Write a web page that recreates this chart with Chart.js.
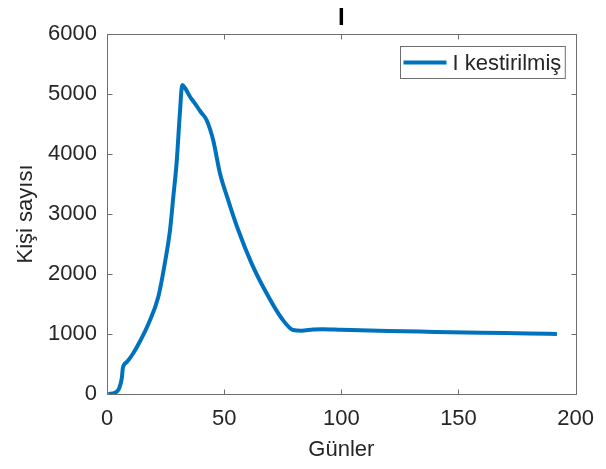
<!DOCTYPE html>
<html>
<head>
<meta charset="utf-8">
<script src="https://cdn.jsdelivr.net/npm/chart.js@4/dist/chart.umd.min.js"></script>
<style>
  html, body { margin: 0; padding: 0; background: #fff; }
  #wrap { width: 606px; height: 469px; }
</style>
</head>
<body>
<div id="wrap"><canvas id="c" width="606" height="469"></canvas></div>
<script>
// Estimated infected count (I) per day
const days = [0.6, 3.4, 5.2, 6.3, 6.8, 8.4, 11.2, 14.1, 17.7, 21.9, 24.7, 26.9, 28.3, 29.7, 31.1, 32.1, 33.3, 35.5, 37.5, 40, 42.5, 45.3, 48.2, 51.7, 56, 61.7, 68.1, 74.5, 79.4, 83, 88, 92, 100, 120, 140, 160, 180, 192];
const infected = [0, 20, 95, 260, 440, 530, 680, 880, 1170, 1622, 2183, 2733, 3288, 3850, 4678, 5150, 5100, 4950, 4845, 4700, 4567, 4233, 3678, 3233, 2733, 2178, 1678, 1262, 1067, 1055, 1075, 1080, 1070, 1050, 1035, 1020, 1010, 1000];

const chartTitle = 'I';
const seriesLabel = 'I kestirilmiş';
const xTitle = 'Günler';
const yTitle = 'Kişi sayısı';
const xTicks = [0, 50, 100, 150, 200];
const yTicks = [0, 1000, 2000, 3000, 4000, 5000, 6000];

const FONT = "'Liberation Sans', Arial, sans-serif";
const TEXT = '#262626';
const AXIS = '#6e6e6e';
const LINE = '#0072BD';

// Box around the plot, inward tick marks on all four sides, title and legend
const frame = {
  id: 'frame',
  afterDatasetsDraw(chart) {
    const {ctx, chartArea: a, scales: {x, y}} = chart;
    ctx.save();
    ctx.strokeStyle = AXIS;
    ctx.lineWidth = 1;
    const L = Math.round(a.left) + 0.5, R = Math.round(a.right) + 0.5;
    const T = Math.round(a.top) + 0.5, B = Math.round(a.bottom) + 0.5;
    ctx.beginPath();
    ctx.rect(L, T, R - L, B - T);
    const tl = 5;
    xTicks.forEach(v => {
      const px = Math.round(x.getPixelForValue(v)) + 0.5;
      ctx.moveTo(px, B); ctx.lineTo(px, B - tl);
      ctx.moveTo(px, T); ctx.lineTo(px, T + tl);
    });
    yTicks.forEach(v => {
      const py = Math.round(y.getPixelForValue(v)) + 0.5;
      ctx.moveTo(L, py); ctx.lineTo(L + tl, py);
      ctx.moveTo(R, py); ctx.lineTo(R - tl, py);
    });
    ctx.stroke();

    // title above the plot
    ctx.fillStyle = '#000';
    ctx.font = 'bold 24px ' + FONT;
    ctx.textAlign = 'center';
    ctx.textBaseline = 'middle';
    ctx.fillText(chartTitle, (a.left + a.right) / 2, a.top - 16);

    // legend in the upper right corner
    const ds = chart.data.datasets[0];
    ctx.font = '22px ' + FONT;
    const tw = ctx.measureText(ds.label).width;
    const bw = 3 + 43 + 6 + tw + 4, bh = 32;
    const bx = Math.round(a.right - 11 - bw) + 0.5, by = Math.round(a.top + 12) + 0.5;
    ctx.fillStyle = '#fff';
    ctx.fillRect(bx, by, bw, bh);
    ctx.strokeStyle = AXIS;
    ctx.strokeRect(bx, by, bw, bh);
    ctx.strokeStyle = ds.borderColor;
    ctx.lineWidth = 4;
    ctx.beginPath();
    ctx.moveTo(bx + 3, by + bh / 2);
    ctx.lineTo(bx + 46, by + bh / 2);
    ctx.stroke();
    ctx.fillStyle = TEXT;
    ctx.textAlign = 'left';
    ctx.fillText(ds.label, bx + 52, by + bh / 2 + 1);
    ctx.restore();
  }
};

new Chart(document.getElementById('c'), {
  type: 'line',
  data: {
    datasets: [{
      label: seriesLabel,
      data: days.map((d, i) => ({x: d, y: infected[i]})),
      borderColor: LINE,
      backgroundColor: LINE,
      borderWidth: 4,
      pointRadius: 0,
      cubicInterpolationMode: 'monotone',
      fill: false
    }]
  },
  options: {
    responsive: false,
    animation: false,
    events: [],
    layout: { padding: { left: 0, right: 30, top: 34, bottom: 0 } },
    plugins: {
      legend: { display: false },
      title: { display: false },
      tooltip: { enabled: false }
    },
    scales: {
      x: {
        type: 'linear',
        min: 0, max: 200,
        afterBuildTicks: s => { s.ticks = xTicks.map(v => ({value: v})); },
        afterFit: s => { s.height = 75; },
        grid: { display: false, drawTicks: false },
        border: { display: false },
        ticks: { color: TEXT, font: { family: FONT, size: 22 }, padding: 12, maxRotation: 0 },
        title: { display: true, text: xTitle, color: TEXT, font: { family: FONT, size: 22 }, padding: { top: 0, bottom: 6 } }
      },
      y: {
        type: 'linear',
        min: 0, max: 6000,
        afterBuildTicks: s => { s.ticks = yTicks.map(v => ({value: v})); },
        afterFit: s => { s.width = 107; },
        grid: { display: false, drawTicks: false },
        border: { display: false },
        ticks: { color: TEXT, font: { family: FONT, size: 22 }, padding: 10, callback: v => String(v) },
        title: { display: true, text: yTitle, color: TEXT, font: { family: FONT, size: 22 }, padding: { top: 13, bottom: 0 } }
      }
    }
  },
  plugins: [frame]
});
</script>
</body>
</html>
